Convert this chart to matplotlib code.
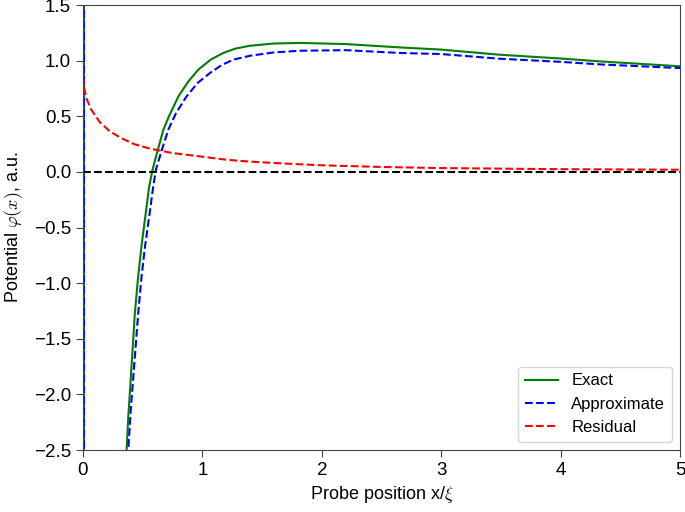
import matplotlib.pyplot as plt

plt.rcParams['font.family'] = ['Liberation Sans', 'DejaVu Sans']
plt.rcParams['mathtext.fontset'] = 'cm'

# curves
exact_x = [0.009, 0.010, 0.1, 0.2, 0.3, 0.366, 0.38, 0.40, 0.435, 0.46, 0.49, 0.52, 0.555, 0.583,
           0.62, 0.673, 0.72, 0.80, 0.88, 0.966, 1.07, 1.175, 1.28, 1.40, 1.6, 1.82, 2.2, 2.65,
           3.0, 3.49, 4.0, 4.33, 5.0]
exact_y = [3.0, -60.0, -20.0, -8.0, -3.7, -2.5, -2.2, -1.87, -1.27, -0.97, -0.67, -0.42, -0.13, 0.02,
           0.17, 0.378, 0.50, 0.68, 0.81, 0.92, 1.01, 1.07, 1.11, 1.135, 1.155, 1.16, 1.15, 1.12,
           1.10, 1.054, 1.02, 0.994, 0.95]

approx_x = [0.009, 0.010, 0.1, 0.2, 0.3, 0.38, 0.40, 0.42, 0.463, 0.49, 0.52, 0.555, 0.589, 0.611,
            0.65, 0.714, 0.78, 0.868, 0.96, 1.064, 1.16, 1.259, 1.40, 1.6, 1.82, 2.2, 2.65,
            3.0, 3.49, 4.0, 4.33, 5.0]
approx_y = [3.0, -60.0, -22.0, -9.0, -4.3, -2.5, -2.15, -1.87, -1.27, -0.95, -0.67, -0.40, -0.13, 0.02,
            0.16, 0.378, 0.53, 0.68, 0.80, 0.89, 0.96, 1.01, 1.045, 1.075, 1.09, 1.095, 1.07,
            1.06, 1.018, 0.99, 0.967, 0.934]

resid_x = [0.0, 0.01, 0.03, 0.07, 0.14, 0.22, 0.31, 0.43, 0.56, 0.75, 0.98, 1.2, 1.4, 1.7,
           2.0, 2.5, 3.0, 4.0, 5.0]
resid_y = [0.86, 0.76, 0.66, 0.56, 0.45, 0.37, 0.31, 0.25, 0.21, 0.17, 0.14, 0.11, 0.093, 0.075,
           0.06, 0.045, 0.035, 0.025, 0.02]

fig = plt.figure(figsize=(6.85, 5.12), dpi=100)
ax = fig.add_axes([0.121, 0.121, 0.872, 0.869])

ax.plot(exact_x, exact_y, color='green', lw=1.5, label='Exact')
ax.plot(approx_x, approx_y, color='blue', ls='--', lw=1.5, label='Approximate')
ax.plot(resid_x, resid_y, color='red', ls='--', lw=1.5, label='Residual')
ax.axhline(0, color='black', ls='--', lw=1.5)

ax.set_xlim(0, 5)
ax.set_ylim(-2.5, 1.5)
ax.set_xticks([0, 1, 2, 3, 4, 5])
ax.set_yticks([-2.5, -2.0, -1.5, -1.0, -0.5, 0.0, 0.5, 1.0, 1.5])
ax.tick_params(labelsize=13.5, length=5, color='#444444')
for s in ax.spines.values():
    s.set_color('#444444')

ax.set_xlabel(r'Probe position x/$\xi$', fontsize=13)
ax.set_ylabel(r'Potential $\varphi(x)$, a.u.', fontsize=13, labelpad=6)
ax.legend(loc='lower right', fontsize=12)

fig.savefig('out.png', dpi=100)
